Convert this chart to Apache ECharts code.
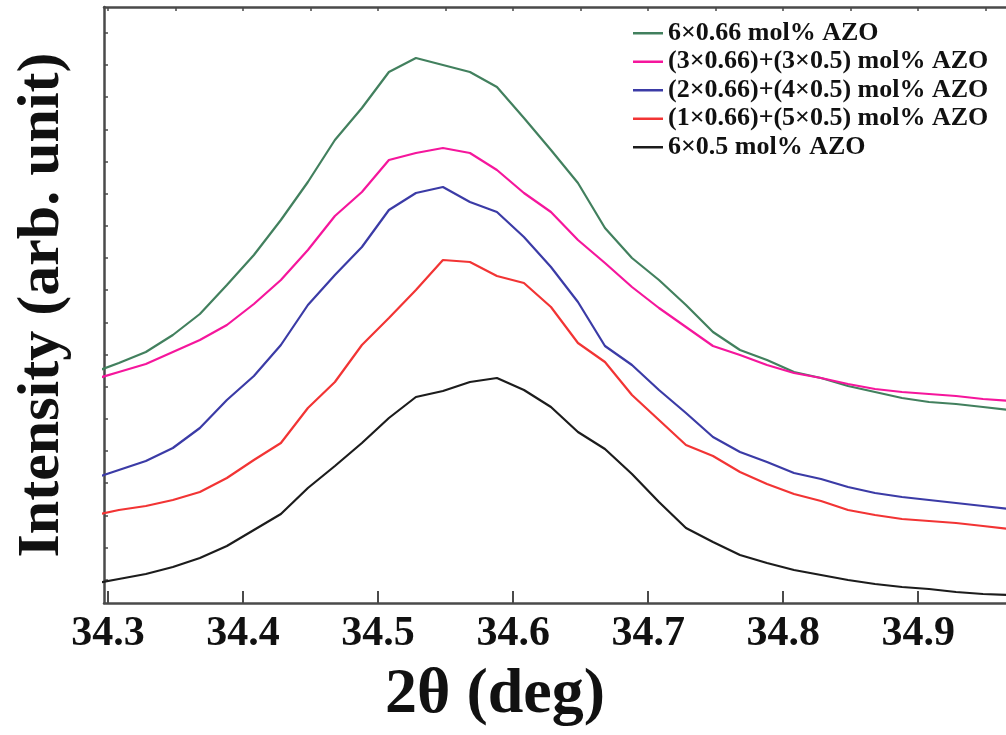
<!DOCTYPE html>
<html>
<head>
<meta charset="utf-8">
<script src="https://cdn.jsdelivr.net/npm/echarts@6/dist/echarts.min.js"></script>
<style>
  html, body { margin: 0; padding: 0; background: #fff; }
  #chart { width: 1006px; height: 735px; }
</style>
</head>
<body>
<div id="chart"></div>
<script>
// 2theta positions (deg), step 0.02
const twoTheta = [34.288, 34.308, 34.328, 34.348, 34.368, 34.388, 34.408, 34.428, 34.448, 34.468,
  34.488, 34.508, 34.528, 34.548, 34.568, 34.588, 34.608, 34.628, 34.648, 34.668,
  34.688, 34.708, 34.728, 34.748, 34.768, 34.788, 34.808, 34.828, 34.848, 34.868,
  34.888, 34.908, 34.928, 34.948, 34.968];

// intensities (arb. unit)
const azo066 = [230, 240, 251, 268, 289, 318, 348, 383, 421, 463, 495, 531, 545, 538, 531, 516, 485, 453, 420, 375,
  345, 323, 298, 271, 253, 243, 231, 225, 217, 211, 205, 201, 199, 196, 193];
const azo3x3 = [223, 231, 239, 251, 263, 278, 299, 323, 353, 387, 411, 443, 450, 455, 450, 433, 410, 391, 363, 340,
  316, 295, 276, 257, 248, 238, 230, 225, 219, 214, 211, 209, 207, 204, 202];
const azo2x4 = [124, 133, 142, 155, 175, 203, 227, 258, 298, 328, 356, 393, 410, 416, 401, 391, 366, 336, 301, 257,
  238, 213, 190, 166, 151, 141, 130, 124, 116, 110, 106, 103, 100, 97, 94];
const azo1x5 = [87, 93, 97, 103, 111, 125, 143, 160, 195, 221, 258, 285, 313, 343, 341, 327, 320, 296, 260, 241,
  208, 183, 158, 147, 131, 119, 109, 102, 93, 88, 84, 82, 80, 77, 74];
const azo05 = [19, 24, 29, 36, 45, 57, 73, 89, 115, 137, 160, 185, 206, 212, 221, 225, 213, 196, 171, 154,
  129, 101, 75, 61, 48, 40, 33, 28, 23, 19, 16, 14, 11, 9, 8];

const seriesNames = ['6×0.66 mol% AZO', '(3×0.66)+(3×0.5) mol% AZO', '(2×0.66)+(4×0.5) mol% AZO',
  '(1×0.66)+(5×0.5) mol% AZO', '6×0.5 mol% AZO'];
const seriesData = [azo066, azo3x3, azo2x4, azo1x5, azo05];
const colors = ['#42805e', '#f5169c', '#3b3ba6', '#f23434', '#1c1c1c'];

const xTicks = [34.3, 34.4, 34.5, 34.6, 34.7, 34.8, 34.9];
const xTopTicks = [34.3, 34.35, 34.4, 34.45, 34.5, 34.55, 34.6, 34.65, 34.7, 34.75, 34.8, 34.85, 34.9, 34.95];
const yTicks = [23, 55, 87, 120, 152, 184, 216, 248, 280, 313, 345, 377, 409, 441, 473, 506, 538, 570];

const serif = "'Liberation Serif', 'Times New Roman', serif";
const axisColor = '#4a4a4a';

const chart = echarts.init(document.getElementById('chart'));

chart.setOption({
  animation: false,
  color: colors,
  grid: { left: 104, right: -4, top: 7, bottom: 132 },
  legend: {
    orient: 'vertical',
    left: 633,
    top: 19,
    padding: 0,
    icon: 'rect',
    itemWidth: 30,
    itemHeight: 2.5,
    itemGap: 0,
    textStyle: { fontFamily: serif, fontWeight: 'bold', fontSize: 26, color: '#111', lineHeight: 28.5 },
    data: seriesNames
  },
  xAxis: [{
    type: 'value',
    min: 34.297,
    max: 34.965,
    position: 'bottom',
    name: '2θ (deg)',
    nameLocation: 'middle',
    nameGap: 60,
    nameTextStyle: { fontFamily: serif, fontWeight: 'bold', fontSize: 64, color: '#111', padding: [0, 120, 0, 0] },
    axisLine: { lineStyle: { color: axisColor, width: 2.5 } },
    axisTick: { inside: true, length: 12, customValues: xTicks, lineStyle: { color: axisColor, width: 2 } },
    axisLabel: {
      customValues: xTicks,
      margin: 10,
      fontFamily: serif, fontWeight: 'bold', fontSize: 42, color: '#111',
      formatter: v => v.toFixed(1)
    },
    splitLine: { show: false }
  }, {
    type: 'value',
    min: 34.297,
    max: 34.965,
    position: 'top',
    axisLine: { show: true, lineStyle: { color: axisColor, width: 2.5 } },
    axisTick: { inside: true, length: 4, customValues: xTopTicks, lineStyle: { color: axisColor, width: 1.5 } },
    axisLabel: { show: false },
    splitLine: { show: false }
  }],
  yAxis: {
    type: 'value',
    min: 0,
    max: 596,
    name: 'Intensity (arb. unit)',
    nameLocation: 'middle',
    nameGap: 32,
    nameTextStyle: { fontFamily: serif, fontWeight: 'bold', fontSize: 60, color: '#111' },
    axisLine: { show: true, lineStyle: { color: axisColor, width: 2.5 } },
    axisTick: { show: true, inside: true, length: 4, customValues: yTicks, lineStyle: { color: axisColor, width: 1.5 } },
    axisLabel: { show: false },
    splitLine: { show: false }
  },
  series: seriesNames.map((name, i) => ({
    name: name,
    type: 'line',
    xAxisIndex: 0,
    symbol: 'none',
    clip: true,
    lineStyle: { width: 2.2, color: colors[i] },
    data: twoTheta.map((x, j) => [x, seriesData[i][j]])
  }))
});
</script>
</body>
</html>
